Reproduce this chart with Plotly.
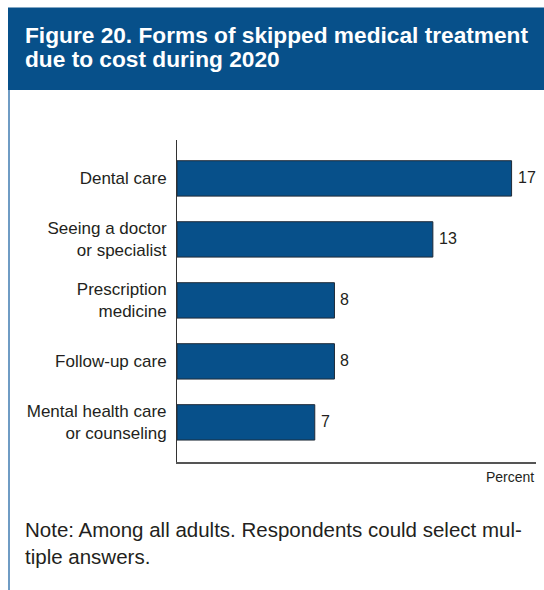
import plotly.graph_objects as go

# Survey categories and percentages
categories = [
    "Dental care",
    "Seeing a doctor<br>or specialist",
    "Prescription<br>medicine",
    "Follow-up care",
    "Mental health care<br>or counseling",
]
values = [17, 13, 8, 8, 7]

title_lines = [
    "Figure 20. Forms of skipped medical treatment",
    "due to cost during 2020",
]
note_text = "Note: Among all adults. Respondents could select mul-<br>tiple answers."
axis_unit = "Percent"

BLUE = "#07508a"
TEXT = "#231f20"
FONT = "Liberation Sans"

W, H = 544, 590
L, R, T, B = 177, 8, 140, 128
pw, ph = W - L - R, H - T - B


def px_x(p):
    return (p - L) / pw


def px_y(p):
    return (H - B - p) / ph


fig = go.Figure(
    go.Bar(
        x=values,
        y=categories,
        orientation="h",
        width=0.58,
        marker=dict(color=BLUE, line=dict(color="#1e2a38", width=1)),
        cliponaxis=False,
    )
)

annotations = []
# value labels just past the end of each bar
for cat, val in zip(categories, values):
    annotations.append(
        dict(text=str(val), x=val, y=cat, xref="x", yref="y",
             xanchor="left", yanchor="middle", xshift=4, yshift=1,
             showarrow=False,
             font=dict(family=FONT, size=16, color=TEXT))
    )
for i, line in enumerate(title_lines):
    annotations.append(
        dict(text=line, xref="paper", yref="paper",
             x=px_x(23), y=px_y(35 + 24 * i), xanchor="left", yanchor="middle",
             align="left", showarrow=False,
             font=dict(family=FONT, size=22.7, color="white", weight="bold"))
    )
annotations += [
    dict(text=axis_unit, xref="paper", yref="paper",
         x=1, y=px_y(477), xanchor="right", yanchor="middle",
         showarrow=False,
         font=dict(family=FONT, size=14, color=TEXT)),
    dict(text=note_text, xref="paper", yref="paper",
         x=px_x(23), y=px_y(543), xanchor="left", yanchor="middle",
         align="left", showarrow=False,
         font=dict(family=FONT, size=20.5, color=TEXT)),
]

fig.update_layout(
    width=W,
    height=H,
    margin=dict(l=L, r=R, t=T, b=B, autoexpand=False),
    paper_bgcolor="white",
    plot_bgcolor="white",
    showlegend=False,
    xaxis=dict(
        range=[0, 18.24],
        showgrid=False,
        zeroline=False,
        showticklabels=False,
        showline=True,
        linecolor="#555555",
        linewidth=1.5,
        fixedrange=True,
    ),
    yaxis=dict(
        categoryorder="array",
        categoryarray=categories,
        range=[4.65, -0.63],
        showgrid=False,
        zeroline=False,
        showline=True,
        linecolor="#333333",
        linewidth=1,
        ticks="",
        ticklabelstandoff=6,
        tickfont=dict(family=FONT, size=17, color=TEXT),
        fixedrange=True,
    ),
    shapes=[
        # title band
        dict(type="rect", xref="paper", yref="paper",
             x0=px_x(8), x1=px_x(W + 2), y0=px_y(90), y1=px_y(7.5),
             fillcolor=BLUE, line=dict(width=0), layer="below"),
        # left rule of the panel
        dict(type="line", xref="paper", yref="paper",
             x0=px_x(9), x1=px_x(9), y0=px_y(90), y1=px_y(H + 2),
             line=dict(color="#3f7bb0", width=1.5)),
    ],
    annotations=annotations,
)

fig.write_html("out.html")
